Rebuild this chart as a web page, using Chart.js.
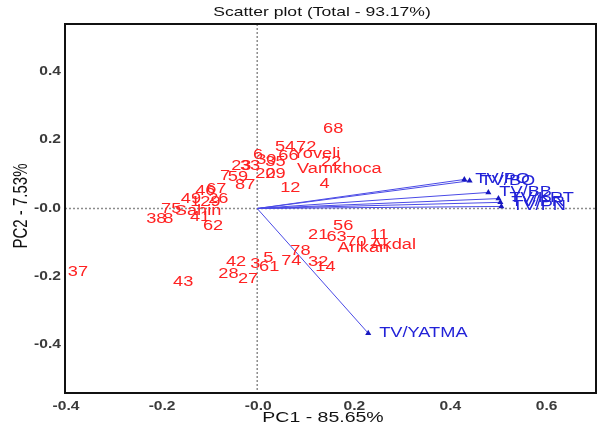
<!DOCTYPE html>
<html>
<head>
<meta charset="utf-8">
<script src="https://cdn.jsdelivr.net/npm/chart.js@4/dist/chart.umd.min.js"></script>
<style>
  html, body { margin: 0; padding: 0; background: #fff; }
</style>
</head>
<body>
<canvas id="pca" width="600" height="424"></canvas>
<script>
// PCA scores (samples)
const sampleLabels = ['68', '54', '72', '6', 'Yoveli', '22', 'Vamkhoca', '4', '12', '29', '20', '35', '30', '66',
  '23', '33', '7', '59', '87', '46', '67', '49', '26', '129', '75', 'Sahin', '38', '8', '41', '62',
  '37', '43', '28', '27', '42', '3', '5', '61', '74', '78', '32', '14', '56', '21', '63', '70', '11', 'Arikan', 'Akdal'];
const sampleX = [0.158, 0.058, 0.102, 0.002, 0.123, 0.154, 0.171, 0.140, 0.069, 0.038, 0.017, 0.038, 0.019, 0.065,
  -0.033, -0.015, -0.067, -0.040, -0.025, -0.108, -0.085, -0.138, -0.081, -0.108, -0.179, -0.123, -0.210, -0.185, -0.119, -0.092,
  -0.373, -0.154, -0.060, -0.019, -0.044, -0.004, 0.023, 0.025, 0.071, 0.090, 0.127, 0.142, 0.179, 0.127, 0.165, 0.206, 0.254, 0.221, 0.283];
const sampleY = [0.232, 0.179, 0.179, 0.156, 0.159, 0.135, 0.115, 0.071, 0.059, 0.100, 0.100, 0.135, 0.141, 0.153,
  0.124, 0.124, 0.094, 0.091, 0.068, 0.050, 0.056, 0.026, 0.026, 0.018, -0.003, -0.009, -0.032, -0.032, -0.026, -0.053,
  -0.185, -0.215, -0.191, -0.206, -0.156, -0.162, -0.144, -0.171, -0.153, -0.126, -0.156, -0.171, -0.053, -0.079, -0.085, -0.097, -0.079, -0.115, -0.106];

// loadings (vectors)
const vectorLabels = ['TV/PO', 'TV/BO', 'TV/BB', 'TV/KRT', 'TV/PR', 'TV/PN', 'TV/YATMA'];
const vectorX = [0.431, 0.442, 0.481, 0.502, 0.506, 0.508, 0.231];
const vectorY = [0.085, 0.081, 0.047, 0.029, 0.018, 0.006, -0.365];

const xTicks = [-0.4, -0.2, 0, 0.2, 0.4, 0.6];
const yTicks = [-0.4, -0.2, 0, 0.2, 0.4];

const FONT = '"Liberation Sans", Arial, sans-serif';
const STRETCH = 1.3; // the original picture is wide-stretched, text too

const fmtTick = v => (Math.abs(v) < 1e-9 ? '-0.0' : v.toFixed(1));

function wideText(ctx, text, px, py, align) {
    ctx.save();
    ctx.translate(px, py);
    ctx.scale(STRETCH, 1);
    ctx.textAlign = align;
    ctx.fillText(text, 0, 0);
    ctx.restore();
}

const labelPlugin = {
    id: 'pcaLabels',
    beforeDatasetsDraw(chart) {
        const { ctx, chartArea: a, scales: { x, y } } = chart;
        const x0 = x.getPixelForValue(0);
        const y0 = y.getPixelForValue(0);
        ctx.save();
        ctx.strokeStyle = '#8c8c8c';
        ctx.lineWidth = 1.5;
        ctx.setLineDash([2, 2]);
        ctx.beginPath();
        ctx.moveTo(x0, a.top); ctx.lineTo(x0, a.bottom);
        ctx.moveTo(a.left, y0); ctx.lineTo(a.right, y0);
        ctx.stroke();
        ctx.restore();
    },
    afterDatasetsDraw(chart) {
        const { ctx, chartArea: a, scales: { x, y } } = chart;
        ctx.save();
        ctx.textBaseline = 'middle';

        // sample names
        ctx.font = '14px ' + FONT;
        ctx.fillStyle = '#ff2222';
        sampleLabels.forEach((t, i) => {
            wideText(ctx, t, x.getPixelForValue(sampleX[i]), y.getPixelForValue(sampleY[i]), 'center');
        });

        // vector names
        ctx.fillStyle = '#2222d8';
        vectorLabels.forEach((t, i) => {
            wideText(ctx, t, x.getPixelForValue(vectorX[i]) + 11, y.getPixelForValue(vectorY[i]), 'left');
        });

        // frame
        ctx.strokeStyle = '#111';
        ctx.lineWidth = 2;
        ctx.strokeRect(a.left, a.top, a.right - a.left, a.bottom - a.top);

        // tick labels
        ctx.fillStyle = '#3a3a3a';
        ctx.font = 'bold 12px ' + FONT;
        x.ticks.forEach(t => wideText(ctx, fmtTick(t.value), x.getPixelForValue(t.value) + 1, 407, 'center'));
        y.ticks.forEach(t => wideText(ctx, fmtTick(t.value), 61, y.getPixelForValue(t.value), 'right'));

        // titles
        ctx.fillStyle = '#111';
        ctx.font = '13.5px ' + FONT;
        wideText(ctx, 'Scatter plot (Total - 93.17%)', 322, 12, 'center');
        ctx.font = '15px ' + FONT;
        wideText(ctx, 'PC1 - 85.65%', 323, 418, 'center');
        ctx.translate(22, 206);
        ctx.scale(STRETCH, 1);
        ctx.rotate(-Math.PI / 2);
        ctx.textAlign = 'center';
        ctx.fillText('PC2 - 7.53%', 0, 0);
        ctx.restore();
    }
};

const datasets = [{
    label: 'samples',
    data: sampleX.map((v, i) => ({ x: v, y: sampleY[i] })),
    pointRadius: 0
}];

vectorLabels.forEach((name, i) => {
    datasets.push({
        type: 'line',
        label: name,
        data: [{ x: 0, y: 0 }, { x: vectorX[i], y: vectorY[i] }],
        borderColor: '#4a4ae6',
        borderWidth: 1,
        pointStyle: 'triangle',
        pointRadius: [0, 3.5],
        pointBackgroundColor: '#1818c0',
        pointBorderColor: '#1818c0',
        pointBorderWidth: 0
    });
});

new Chart(document.getElementById('pca').getContext('2d'), {
    type: 'scatter',
    data: { datasets },
    plugins: [labelPlugin],
    options: {
        responsive: false,
        animation: false,
        layout: { padding: { top: 24, right: 3 } },
        plugins: {
            legend: { display: false },
            tooltip: { enabled: false }
        },
        scales: {
            x: {
                type: 'linear',
                min: -0.4,
                max: 0.705,
                grid: { display: false, drawTicks: false },
                border: { display: false },
                afterBuildTicks: s => { s.ticks = xTicks.map(v => ({ value: v })); },
                afterFit: s => { s.height = 31; },
                ticks: { display: false }
            },
            y: {
                type: 'linear',
                min: -0.54,
                max: 0.54,
                grid: { display: false, drawTicks: false },
                border: { display: false },
                afterBuildTicks: s => { s.ticks = yTicks.map(v => ({ value: v })); },
                afterFit: s => { s.width = 65; },
                ticks: { display: false }
            }
        }
    }
});
</script>
</body>
</html>
